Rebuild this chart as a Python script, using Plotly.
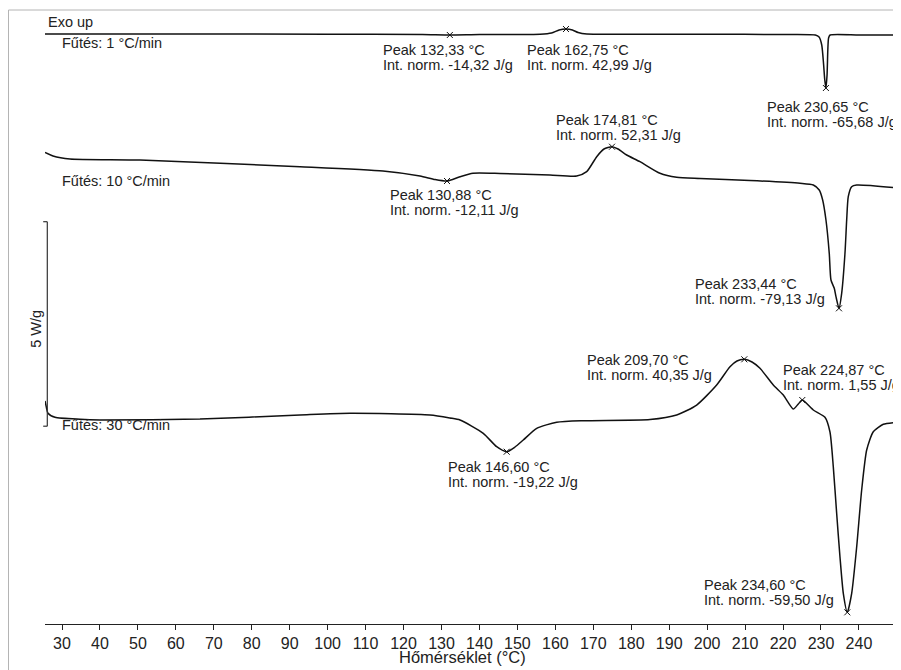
import plotly.graph_objects as go

# ---- data (temperature in °C, heat flow in W/g with vertical offsets) ----
T1 = [25.52, 60, 100, 125, 132.2, 140, 150, 156, 159, 161, 162.8, 164.5, 166, 168.3, 180, 200, 220,
      228.5, 229.5, 230.2, 230.7, 231.0, 231.3, 231.6, 231.8, 232.0, 232.4, 240, 250.03]
Y1 = [14.390, 14.390, 14.385, 14.378, 14.366, 14.378, 14.378, 14.385, 14.415, 14.488, 14.512, 14.488,
      14.427, 14.390, 14.385, 14.383, 14.378, 14.366, 14.317, 14.122, 13.634, 13.268, 13.073, 13.390,
      14.0, 14.293, 14.366, 14.366, 14.366]

T2 = [25.52, 27.63, 32.11, 50.55, 92.71, 114.58, 124.33, 128.29, 131.45, 134.88, 138.30, 145.42,
      158.59, 165.63, 168.26, 170.90, 172.82, 174.93, 176.51, 178.80, 182.30, 187.57, 191.97, 198.12,
      211.29, 224.47, 227.98, 229.54, 230.44, 231.31, 232.18, 232.63, 233.50, 233.95, 234.74, 235.45,
      236.32, 236.77, 237.19, 238.08, 239.40, 249.94]
Y2 = [11.500, 11.415, 11.341, 11.317, 11.154, 11.049, 10.927, 10.841, 10.805, 10.910, 10.993, 10.988,
      10.951, 10.927, 11.032, 11.398, 11.585, 11.641, 11.585, 11.439, 11.276, 10.993, 10.895, 10.866,
      10.817, 10.749, 10.707, 10.585, 10.341, 9.854, 9.041, 8.390, 8.188, 7.983, 7.700, 8.066,
      9.041, 9.854, 10.422, 10.666, 10.707, 10.641]

T3 = [25.52, 25.92, 26.31, 28.16, 34.74, 40.01, 66.36, 92.71, 105.89, 126.97, 132.24, 134.88, 141.01,
      144.54, 147.18, 149.37, 151.55, 155.09, 160.36, 167.36, 184.94, 191.97, 197.24, 202.51, 206.02,
      207.86, 209.79, 211.82, 213.93, 217.43, 220.07, 222.70, 224.02, 225.07, 227.97, 231.05, 232.37,
      233.24, 234.13, 235.00, 235.88, 236.93, 238.09, 239.41, 240.72, 242.04, 243.78, 246.42, 250.03]
Y3 = [5.439, 5.268, 5.139, 5.041, 4.993, 4.976, 5.000, 5.098, 5.139, 5.098, 5.024, 4.976, 4.651,
      4.324, 4.202, 4.317, 4.488, 4.773, 4.920, 4.959, 4.988, 5.098, 5.341, 5.829, 6.276,
      6.415, 6.456, 6.390, 6.237, 5.829, 5.585, 5.244, 5.366, 5.463, 5.220, 5.041, 4.683,
      3.837, 2.700, 1.641, 0.749, 0.285, 0.749, 1.885, 3.268, 4.244, 4.690, 4.871, 4.920]

# peak markers (as located on the curves)
peak_T = [132.2, 162.8, 231.3, 131.45, 174.93, 234.74, 147.18, 209.79, 225.07, 236.93]
peak_Y = [14.366, 14.512, 13.073, 10.805, 11.641, 7.700, 4.202, 6.456, 5.463, 0.285]

peak_text = ["Peak 132,33 °C", "Peak 162,75 °C", "Peak 230,65 °C", "Peak 130,88 °C", "Peak 174,81 °C",
             "Peak 233,44 °C", "Peak 146,60 °C", "Peak 209,70 °C", "Peak 224,87 °C", "Peak 234,60 °C"]
int_text = ["Int. norm. -14,32 J/g", "Int. norm. 42,99 J/g", "Int. norm. -65,68 J/g",
            "Int. norm. -12,11 J/g", "Int. norm. 52,31 J/g", "Int. norm. -79,13 J/g",
            "Int. norm. -19,22 J/g", "Int. norm. 40,35 J/g", "Int. norm. 1,55 J/g",
            "Int. norm. -59,50 J/g"]
rate_text = ["Fűtés: 1 °C/min", "Fűtés: 10 °C/min", "Fűtés: 30 °C/min"]
x_ticks = list(range(30, 250, 10))

# ---- layout geometry ----
# the page body adds an 8 px offset, so the figure is 8 px smaller than the window
OFF = 8
W, H = 901 - OFF, 670 - OFF
PL, PR, PT, PB = 45, 897, 10, 624          # plot-area edges in page pixels
ML, MR, MT, MB = PL - OFF, 901 - PR, PT - OFF, 670 - PB
PW, PH = PR - PL, PB - PT
FONT = "Arial, 'Liberation Sans', sans-serif"
TXT = "#222222"
FS = 14.5

def px(x):
    return (x - PL) / PW

def py(y):
    return (PB - y) / PH

fig = go.Figure()
for T, Y in [(T1, Y1), (T2, Y2), (T3, Y3)]:
    fig.add_trace(go.Scatter(x=T, y=Y, mode="lines",
                             line=dict(color="#111111", width=1.5, shape="spline", smoothing=0.6),
                             hoverinfo="skip", showlegend=False))
fig.add_trace(go.Scatter(x=peak_T, y=peak_Y, mode="markers",
                         marker=dict(symbol="x-thin", size=6, line=dict(width=1, color="#111111")),
                         hoverinfo="skip", showlegend=False))

ann = []
def txt(x, base, s, fs=FS):
    ann.append(dict(x=px(x - 1), y=py(base - 0.3465 * fs), xref="paper", yref="paper", text=s,
                    showarrow=False, xanchor="left", yanchor="middle", borderpad=0,
                    font=dict(family=FONT, size=fs, color=TXT)))

label_pos = [(383, 55), (526.7, 55), (766.7, 112), (390, 200), (556, 125),
             (695, 289), (447.7, 471.7), (586.7, 365), (783.3, 375), (704.3, 590)]
for (lx, lb), a, b in zip(label_pos, peak_text, int_text):
    txt(lx, lb, a)
    txt(lx, lb + 15.5, b)

for s, b in zip(rate_text, [48, 186, 430]):
    txt(61.7, b, s)
txt(48.3, 27, "Exo up")

# scale bar label
ann.append(dict(x=px(35.8), y=py(329), xref="paper", yref="paper", text="5 W/g", textangle=-90,
                showarrow=False, xanchor="center", yanchor="middle",
                font=dict(family=FONT, size=FS, color=TXT)))
# x axis title
ann.append(dict(x=px(462.5), y=py(663 - 0.3465 * 16.5), xref="paper", yref="paper", text="Hőmérséklet (°C)",
                showarrow=False, xanchor="center", yanchor="middle", borderpad=0,
                font=dict(family=FONT, size=16.5, color=TXT)))

shapes = [
    # image frame
    dict(type="line", xref="paper", yref="paper", x0=px(8.5), x1=px(8.5), y0=py(10), y1=py(H + 20),
         line=dict(color="#b4b4b4", width=1)),
    dict(type="line", xref="paper", yref="paper", x0=px(8.5), x1=px(W + 20), y0=py(10), y1=py(10),
         line=dict(color="#b4b4b4", width=1)),
    # 5 W/g scale bar
    dict(type="line", xref="paper", yref="paper", x0=px(47.3), x1=px(47.3), y0=py(221.7), y1=py(426.2),
         line=dict(color="#333333", width=1.2)),
    dict(type="line", xref="paper", yref="paper", x0=px(43.2), x1=px(47.3), y0=py(221.7), y1=py(221.7),
         line=dict(color="#333333", width=1.2)),
    dict(type="line", xref="paper", yref="paper", x0=px(43.2), x1=px(47.3), y0=py(426.2), y1=py(426.2),
         line=dict(color="#333333", width=1.2)),
]

fig.update_layout(
    width=W, height=H, margin=dict(l=ML, r=MR, t=MT, b=MB),
    paper_bgcolor="white", plot_bgcolor="white",
    font=dict(family=FONT, color=TXT),
    annotations=ann, shapes=shapes, showlegend=False,
    xaxis=dict(range=[25.52, 250.03], tickvals=x_ticks, ticks="outside", ticklen=5, tickwidth=1,
               tickcolor="#222222", showline=True, linecolor="#222222", linewidth=1.2,
               showgrid=False, zeroline=False, tickfont=dict(family=FONT, size=16, color=TXT)),
    yaxis=dict(range=[0, PH / 41], visible=False, showgrid=False, zeroline=False),
)

fig.write_html("out.html")
